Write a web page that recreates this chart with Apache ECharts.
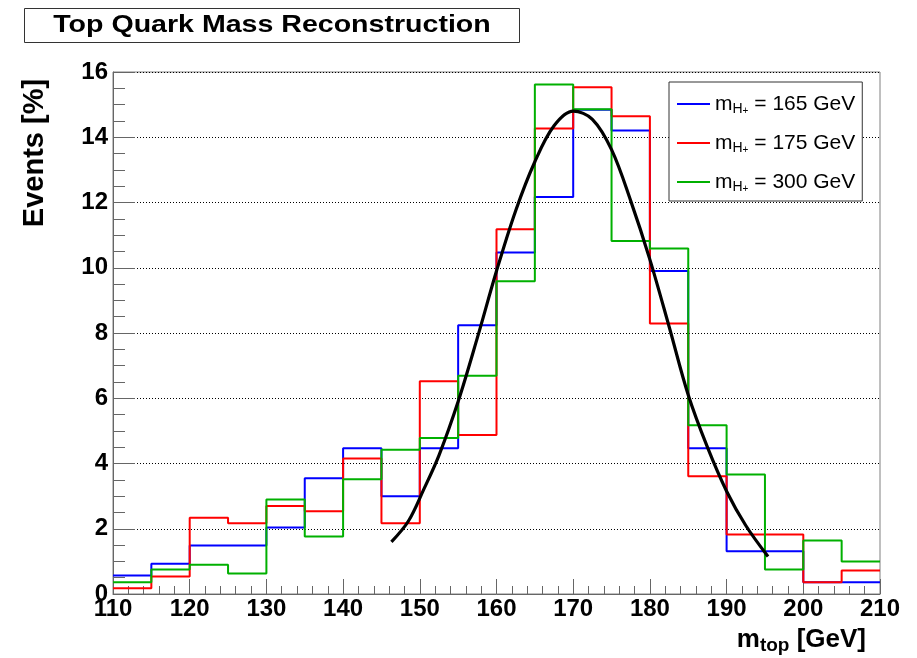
<!DOCTYPE html>
<html>
<head>
<meta charset="utf-8">
<script src="https://cdn.jsdelivr.net/npm/echarts@6/dist/echarts.min.js"></script>
<style>
html,body{margin:0;padding:0;background:#fff;}
#chart{width:917px;height:658px;}
</style>
</head>
<body>
<div id="chart"></div>
<script>
// ---- data ----
const binEdges = [110,115,120,125,130,135,140,145,150,155,160,165,170,175,180,185,190,195,200,205,210];
const mH165 = [0.57,0.93,1.49,1.49,2.04,3.55,4.47,3.00,4.47,8.24,10.47,12.17,14.84,14.21,9.90,4.47,1.31,1.31,0.36,0.36];
const mH175 = [0.18,0.54,2.34,2.17,2.70,2.54,4.15,2.17,6.52,4.87,11.18,14.27,15.53,14.64,8.29,3.61,1.82,1.82,0.36,0.72];
const mH300 = [0.36,0.75,0.90,0.63,2.90,1.76,3.52,4.42,4.78,6.69,9.59,15.62,14.86,10.82,10.59,5.17,3.66,0.75,1.64,1.00];
const fitX = [146.3,148.5,150.5,152.5,155,157.5,160,162.5,165,167.5,170,172.5,175,177.5,180,182.5,185,187.5,190,192.5,195.4];
const fitY = [1.60,2.23,3.20,4.25,5.90,7.85,9.90,11.75,13.25,14.35,14.80,14.55,13.62,12.05,10.25,8.20,6.10,4.50,3.15,2.10,1.15];
const legendMasses = ['165','175','300'];
const seriesNames = ['m_H+ = 165 GeV','m_H+ = 175 GeV','m_H+ = 300 GeV'];
const seriesColors = ['#0000ff','#ff0000','#00b000'];
const xTickValues = [110,120,130,140,150,160,170,180,190,200,210];
const yTickValues = [0,2,4,6,8,10,12,14,16];

const FONT = '"Liberation Sans", Arial, Helvetica, sans-serif';

function histSteps(vals){
  const d = vals.map((v,i)=>[binEdges[i], v]);
  d.push([binEdges[vals.length], vals[vals.length-1]]);
  return d;
}

const histValues = [mH165, mH175, mH300];
const series = histValues.map((vals, k) => ({
  name: seriesNames[k],
  type: 'line',
  step: 'end',
  data: histSteps(vals),
  symbol: 'none',
  showSymbol: false,
  itemStyle: {color: seriesColors[k]},
  lineStyle: {color: seriesColors[k], width: 2},
  z: 3 + k,
  animation: false
}));
series.push({
  name: 'fit',
  type: 'line',
  data: fitX.map((x,i)=>[x, fitY[i]]),
  smooth: 0.35,
  symbol: 'none',
  showSymbol: false,
  lineStyle: {color: '#000', width: 3.2},
  itemStyle: {color: '#000'},
  z: 8,
  animation: false
});

const chart = echarts.init(document.getElementById('chart'), null, {renderer: 'canvas'});
chart.setOption({
  backgroundColor: '#fff',
  animation: false,
  grid: {
    left: 113, right: 37, top: 72, bottom: 64,
    containLabel: false, outerBoundsMode: 'none',
    show: true, borderColor: '#808080', borderWidth: 1, backgroundColor: 'transparent'
  },
  xAxis: {
    type: 'value', min: 110, max: 210, interval: 10,
    axisLine: {show: true, onZero: false, lineStyle: {color: '#666', width: 1}},
    axisTick: {show: true, inside: true, length: 15, lineStyle: {color: '#666', width: 1}},
    minorTick: {show: true, splitNumber: 5, length: 8, lineStyle: {color: '#666', width: 1}},
    axisLabel: {
      color: '#000', fontSize: 24, fontWeight: 'bold', fontFamily: FONT, margin: 3,
      formatter: v => (xTickValues.indexOf(v) >= 0 ? String(v) : '')
    },
    splitLine: {show: false}
  },
  yAxis: {
    type: 'value', min: 0, max: 16, interval: 2,
    axisLine: {show: true, onZero: false, lineStyle: {color: '#666', width: 1}},
    axisTick: {show: true, inside: true, length: 22, lineStyle: {color: '#666', width: 1}},
    minorTick: {show: true, splitNumber: 4, length: 12, lineStyle: {color: '#666', width: 1}},
    axisLabel: {
      color: '#000', fontSize: 24, fontWeight: 'bold', fontFamily: FONT, margin: 5,
      formatter: v => (yTickValues.indexOf(v) >= 0 ? String(v) : '')
    },
    splitLine: {show: true, lineStyle: {color: '#000', width: 1, type: [1, 2]}}
  },
  legend: {
    data: seriesNames,
    orient: 'vertical',
    left: 669, top: 82,
    itemWidth: 33, itemHeight: 2,
    itemGap: 15,
    icon: 'rect',
    padding: [10, 7, 7, 8],
    borderColor: '#333', borderWidth: 1,
    backgroundColor: '#fff',
    selectedMode: false,
    z: 20,
    formatter: function(name){
      const k = seriesNames.indexOf(name);
      return '{m|m}{h|H}{p|+}{t| = ' + legendMasses[k] + ' GeV}';
    },
    textStyle: {
      color: '#000', fontFamily: FONT, fontSize: 21, lineHeight: 24,
      rich: {
        m: {fontSize: 21, lineHeight: 24, fontFamily: FONT, color: '#000'},
        h: {fontSize: 14, lineHeight: 6, verticalAlign: 'bottom', fontFamily: FONT, color: '#000'},
        p: {fontSize: 10, lineHeight: 12, verticalAlign: 'bottom', fontFamily: FONT, color: '#000'},
        t: {fontSize: 21, lineHeight: 24, fontFamily: FONT, color: '#000'}
      }
    }
  },
  graphic: [
    {type: 'rect', z: 30, shape: {x: 24.5, y: 8.5, width: 495, height: 34},
     style: {fill: '#fff', stroke: '#333', lineWidth: 1}},
    {type: 'text', z: 31, x: 272, y: 25.5, scaleX: 1.19,
     style: {text: 'Top Quark Mass Reconstruction', font: 'bold 24px ' + FONT, fill: '#000',
             align: 'center', verticalAlign: 'middle'}},
    {type: 'text', z: 31, x: 35, y: 153, rotation: Math.PI / 2,
     style: {text: 'Events [%]', font: 'bold 29px ' + FONT, fill: '#000',
             align: 'center', verticalAlign: 'middle'}},
    {type: 'text', z: 31, x: 866, y: 640,
     style: {
       text: '{m|m}{s|top}{g| [GeV]}', fill: '#000', align: 'right', verticalAlign: 'middle',
       rich: {
         m: {fontSize: 26, fontWeight: 'bold', lineHeight: 30, fontFamily: FONT, fill: '#000'},
         s: {fontSize: 19, fontWeight: 'bold', lineHeight: 4, verticalAlign: 'bottom', fontFamily: FONT, fill: '#000'},
         g: {fontSize: 26, fontWeight: 'bold', lineHeight: 30, fontFamily: FONT, fill: '#000'}
       }
     }}
  ],
  series: series
});
</script>
</body>
</html>
